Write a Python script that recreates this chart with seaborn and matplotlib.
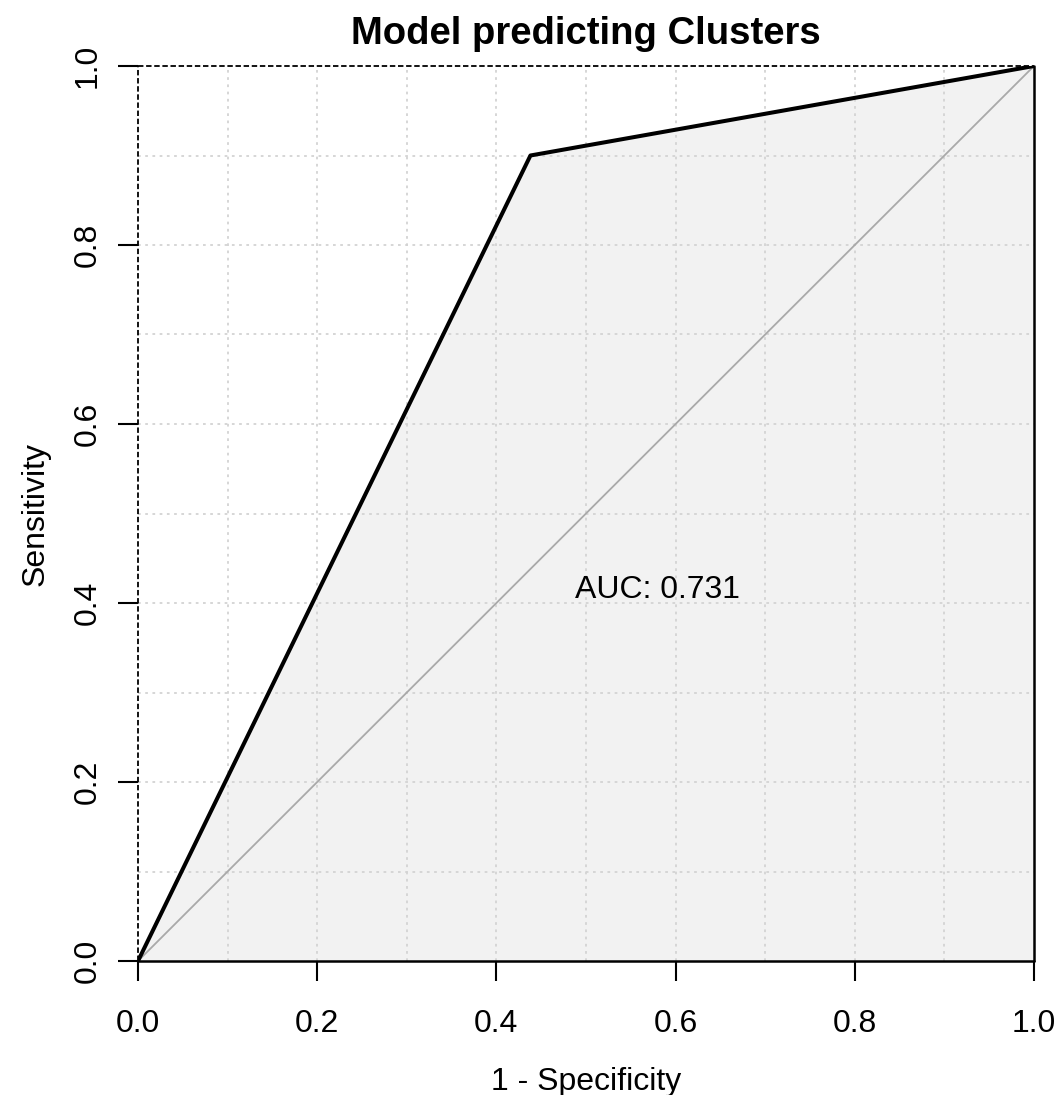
import matplotlib
matplotlib.use("Agg")
import matplotlib.pyplot as plt
import seaborn as sns
import pandas as pd
import numpy as np

# Data
fpr = [0.0, 0.438, 1.0]          # 1 - Specificity
tpr = [0.0, 0.9, 1.0]            # Sensitivity
diag = [0.0, 1.0]
auc_label = "AUC: 0.731"
title = "Model predicting Clusters"
ticks = [0.0, 0.2, 0.4, 0.6, 0.8, 1.0]
tick_labels = ["0.0", "0.2", "0.4", "0.6", "0.8", "1.0"]

sns.set_theme(style="white")
plt.rcParams['font.family'] = ['Liberation Sans', 'DejaVu Sans']
plt.rcParams['text.color'] = 'black'
plt.rcParams['axes.labelcolor'] = 'black'

fig = plt.figure(figsize=(10.6, 10.95), dpi=100)
ax = fig.add_axes([138/1060, 1-961/1095, (1034-138)/1060, (961-66)/1095])

ax.set_xlim(0, 1)
ax.set_ylim(0, 1)

# grid
for g in np.arange(0.1, 1.0, 0.1):
    ax.axvline(g, color="#D3D3D3", lw=1.3, ls=(0, (1.5, 2.5)), zorder=1)
    ax.axhline(g, color="#D3D3D3", lw=1.3, ls=(0, (1.5, 2.5)), zorder=1)

# AUC polygon fill
ax.fill_between(fpr, tpr, 0, color="#F2F2F2", zorder=0, lw=0)

df = pd.DataFrame({"fpr": fpr, "tpr": tpr})
dd = pd.DataFrame({"x": diag, "y": diag})
sns.lineplot(data=dd, x="x", y="y", ax=ax, color="#A9A9A9", lw=1.3, zorder=3, sort=False)
sns.lineplot(data=df, x="fpr", y="tpr", ax=ax, color="black", lw=2.9, zorder=4, sort=False)

# frame pieces
for s in ax.spines.values():
    s.set_visible(False)
ax.plot([0, 0], [0, 1], color="black", lw=1.3, ls=(0, (3, 1.5)), zorder=5, clip_on=False)
ax.plot([0, 1], [1, 1], color="black", lw=1.3, ls=(0, (3, 1.5)), zorder=5, clip_on=False)
ax.plot([1, 1], [0, 1], color="black", lw=1.8, zorder=5, clip_on=False)
ax.plot([0, 1], [0, 0], color="black", lw=1.8, zorder=5, clip_on=False)

ax.set_xticks(ticks)
ax.set_xticklabels(tick_labels)
ax.set_yticks(ticks)
ax.set_yticklabels(tick_labels, rotation=90, va="center")
ax.tick_params(axis="both", which="both", direction="out", length=14.5, width=1.5,
               color="black", labelsize=23, labelcolor="black",
               bottom=True, left=True)
ax.tick_params(axis="x", pad=20)
ax.tick_params(axis="y", pad=11)

ax.set_xlabel("1 - Specificity", fontsize=23, labelpad=20, color="black")
ax.set_ylabel("Sensitivity", fontsize=23, labelpad=16, color="black")
ax.set_title(title, fontsize=27.5, fontweight="bold", pad=16, color="black")

ax.text(0.488, 0.415, auc_label, fontsize=23, ha="left", va="center", zorder=6, color="black")

fig.savefig("out.png", dpi=100)
